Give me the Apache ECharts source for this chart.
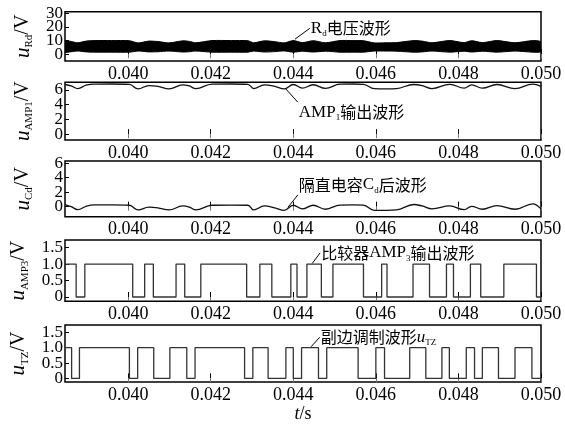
<!DOCTYPE html>
<html><head><meta charset="utf-8">
<script src="https://cdn.jsdelivr.net/npm/echarts@6/dist/echarts.min.js"></script>
<style>html,body{margin:0;padding:0;background:#fff}#c{width:565px;height:424px}</style>
</head><body><div id="c"></div>
<script>
// ---------- data ----------
const xMin = 0.03847, xMax = 0.050;
const xTicks = [0.040, 0.042, 0.044, 0.046, 0.048, 0.050];
const rdTicks = [0, 10, 20, 30];
const ampTicks = [0, 2, 4, 6];
const cdTicks = [0, 2, 4, 6];
const sqTicks = [0, 0.5, 1.0, 1.5];

// key time points of the analog waveforms (s)
const waveT = [0.03847,0.03862,0.03878,0.03898,0.03918,0.03960,0.04003,0.04024,0.04050,0.04072,
  0.04099,0.04132,0.04148,0.04164,0.04203,0.04250,0.04290,0.04304,0.04330,0.04355,
  0.04378,0.04400,0.04422,0.04448,0.04478,0.04513,0.04545,0.04570,0.04596,0.04625,
  0.04650,0.04692,0.04712,0.04736,0.04779,0.04814,0.04832,0.04858,0.04893,0.04937,
  0.04980,0.05000];
// Rd voltage band (upper / lower envelope of the dense oscillation), V
const rdHigh = [9.8,9.3,8.4,9.6,10.0,10.0,9.9,8.3,9.6,9.3,
  8.3,9.8,9.4,8.4,10.0,10.0,9.9,8.4,9.8,9.2,
  8.3,10.0,8.5,9.9,8.4,10.0,10.0,9.9,8.3,8.4,
  8.5,10.0,9.6,8.4,10.0,8.5,9.9,8.5,10.0,8.4,
  10.0,9.0];
const rdLow = [1.6,1.8,2.3,1.7,1.5,1.5,1.5,2.3,1.7,1.8,
  2.3,1.6,1.8,2.3,1.5,1.5,1.5,2.3,1.6,1.9,
  2.4,1.5,2.2,1.6,2.2,1.5,1.5,1.5,2.3,2.3,
  2.2,1.5,1.7,2.3,1.5,2.2,1.6,2.2,1.5,2.3,
  1.5,1.9];
// AMP1 output, V
const amp1V = [6.75,6.55,6.20,6.65,6.80,6.82,6.78,6.15,6.60,6.50,
  6.15,6.70,6.55,6.18,6.80,6.82,6.78,6.20,6.70,6.50,
  6.15,6.75,6.25,6.72,6.22,6.80,6.82,6.78,6.18,6.15,
  6.20,6.75,6.60,6.20,6.78,6.25,6.70,6.25,6.75,6.18,
  6.80,6.50];
// after DC-blocking capacitor Cd, V
const cdV = [0.30,0.00,-0.40,0.05,0.25,0.25,0.20,-0.45,-0.05,-0.15,
  -0.45,0.10,-0.05,-0.45,0.20,0.22,0.20,-0.45,0.10,-0.15,
  -0.50,0.20,-0.30,0.20,-0.35,0.22,0.25,0.22,-0.50,-0.50,
  -0.45,0.30,0.10,-0.30,0.10,-0.40,0.05,-0.35,0.15,-0.35,
  0.40,-0.30];

// comparator AMP3 output: start level and switching instants (s)
const amp3Start = 1;
const amp3Edges = [0.03874,0.03895,0.04011,0.04040,0.04061,0.04116,0.04137,0.04176,
  0.04287,0.04319,0.04348,0.04394,0.04409,0.04433,0.04468,0.04496,
  0.04570,0.04614,0.04627,0.04690,0.04730,0.04771,0.04788,0.04829,
  0.04854,0.04910,0.04989];
// secondary modulation waveform uTZ
const tzStart = 1;
const tzEdges = [0.03863,0.03882,0.04003,0.04023,0.04062,0.04101,0.04142,0.04162,
  0.04282,0.04302,0.04339,0.04382,0.04400,0.04420,0.04461,0.04481,
  0.04557,0.04600,0.04621,0.04682,0.04721,0.04760,0.04778,0.04819,
  0.04839,0.04858,0.04897,0.04937,0.04978];

// ---------- layout / styling ----------
const SERIF = 'Liberation Serif';
const CJK = 'Noto Sans CJK SC';
const grids = [
  {top: 11.7, height: 49.3},
  {top: 82.3, height: 57.7},
  {top: 161, height: 55.7},
  {top: 240, height: 61.3},
  {top: 325, height: 60.7}
];
const yRanges = [[-5, 31.2], [-0.8, 7.05], [-1.38, 6.3], [-0.13, 1.73], [-0.12, 1.74]];
const yTickSets = [rdTicks, ampTicks, cdTicks, sqTicks, sqTicks];
const ySubs = ['Rd', 'AMP1', 'Cd', 'AMP3', 'TZ'];

const nameRich = {
  u: {fontFamily: SERIF, fontStyle: 'italic', fontSize: 21, lineHeight: 24, color: '#000'},
  s: {fontFamily: SERIF, fontSize: 11, lineHeight: 11, verticalAlign: 'bottom', color: '#000'},
  v: {fontFamily: SERIF, fontSize: 20, lineHeight: 24, color: '#000'}
};

const chart = echarts.init(document.getElementById('c'), null, {renderer: 'canvas'});

const gridOpt = grids.map(g => ({left: 65, right: 24, top: g.top, height: g.height,
  show: true, borderColor: '#000', borderWidth: 1.5, backgroundColor: 'transparent'}));

const xAxes = [];
grids.forEach((g, i) => {
  const ax = {
    gridIndex: i, type: 'value', min: xMin, max: xMax,
    axisLine: {show: false}, splitLine: {show: false},
    axisTick: {inside: true, length: 5, customValues: xTicks, lineStyle: {color: '#000'}},
    axisLabel: {customValues: xTicks, formatter: v => v.toFixed(3),
      fontFamily: SERIF, fontSize: 18, color: '#000', margin: 4, showMinLabel: true, showMaxLabel: true}
  };
  if (i === 4) {
    ax.name = '{t|t}{n|/s}';
    ax.nameLocation = 'middle';
    ax.nameGap = 18;
    ax.nameTextStyle = {rich: {
      t: {fontFamily: SERIF, fontStyle: 'italic', fontSize: 18, color: '#000'},
      n: {fontFamily: SERIF, fontSize: 18, color: '#000'}}};
  }
  xAxes.push(ax);
  xAxes.push({
    gridIndex: i, type: 'value', position: 'top', min: xMin, max: xMax,
    axisLine: {show: false}, splitLine: {show: false},
    axisTick: {inside: true, length: 4, customValues: xTicks, lineStyle: {color: '#777'}},
    axisLabel: {show: false}
  });
});

// two left y axes per panel: one carries the even ticks (and the name), the other the odd ticks,
// so that closely spaced labels are not dropped by the library's overlap handling
const yAxes = [];
grids.forEach((g, i) => {
  const fmt = v => (i >= 3 && v !== 0) ? v.toFixed(1) : String(v);
  [0, 1].forEach(part => {
    const vals = yTickSets[i].filter((v, k) => k % 2 === part);
    const ax = {
      gridIndex: i, type: 'value', position: 'left', offset: 0,
      min: yRanges[i][0], max: yRanges[i][1],
      axisLine: {show: false}, splitLine: {show: false},
      axisTick: {inside: true, length: 4, customValues: vals, lineStyle: {color: '#000'}},
      axisLabel: {customValues: vals, fontFamily: SERIF, fontSize: 17, color: '#000', margin: 2,
        showMinLabel: true, showMaxLabel: true, formatter: fmt}
    };
    if (part === 0) {
      ax.name = '{u|u}{s|' + ySubs[i] + '}{v|/V}';
      ax.nameLocation = 'middle';
      ax.nameRotate = 90;
      ax.nameGap = 30;
      ax.nameTextStyle = {rich: nameRich};
    }
    yAxes.push(ax);
  });
});

function squareData(start, edges) {
  const d = [[xMin, start]];
  let lvl = start;
  edges.forEach(t => { lvl = 1 - lvl; d.push([t, lvl]); });
  d.push([xMax, lvl]);
  return d;
}

const series = [
  {type: 'custom', xAxisIndex: 0, yAxisIndex: 0, clip: true, data: [[xMin, 0]],
   renderItem: function (params, api) {
     const up = waveT.map((t, k) => api.coord([t, rdHigh[k]]));
     const lo = waveT.map((t, k) => api.coord([t, rdLow[k]])).reverse();
     return {type: 'polygon', shape: {points: up.concat(lo), smooth: 0.25},
       style: {fill: '#000', stroke: '#000', lineWidth: 1}};
   }},
  {type: 'line', xAxisIndex: 2, yAxisIndex: 2, symbol: 'none', smooth: 0.4,
   lineStyle: {width: 1.3, color: '#111'}, data: waveT.map((t, k) => [t, amp1V[k]])},
  {type: 'line', xAxisIndex: 4, yAxisIndex: 4, symbol: 'none', smooth: 0.4,
   lineStyle: {width: 1.3, color: '#111'}, data: waveT.map((t, k) => [t, cdV[k]])},
  {type: 'line', xAxisIndex: 6, yAxisIndex: 6, symbol: 'none', step: 'end',
   lineStyle: {width: 1.3, color: '#333'}, data: squareData(amp3Start, amp3Edges)},
  {type: 'line', xAxisIndex: 8, yAxisIndex: 8, symbol: 'none', step: 'end',
   lineStyle: {width: 1.3, color: '#333'}, data: squareData(tzStart, tzEdges)}
];

chart.setOption({
  animation: false,
  backgroundColor: '#fff',
  textStyle: {fontFamily: SERIF, color: '#000'},
  grid: gridOpt,
  xAxis: xAxes,
  yAxis: yAxes,
  series: series
});

// ---------- annotations (anchored in data coordinates) ----------
const latin = {fontFamily: SERIF, fontSize: 17, color: '#000'};
const sub = {fontFamily: SERIF, fontSize: 9, color: '#000', verticalAlign: 'bottom', lineHeight: 9};
const cjk = {fontFamily: CJK, fontSize: 16, color: '#000'};
const annRich = {
  l: Object.assign({lineHeight: 20}, latin),
  i: Object.assign({lineHeight: 20, fontStyle: 'italic'}, latin),
  s: sub,
  c: Object.assign({lineHeight: 20}, cjk)
};
const notes = [
  {g: 0, from: [0.04404, 11], to: [0.04440, 19], v: 'middle', text: '{l|R}{s|d}{c|电压波形}'},
  {g: 1, from: [0.04382, 6.14], to: [0.04411, 4.34], v: 'top', text: '{l|AMP}{s|1}{c|输出波形}'},
  {g: 2, from: [0.04387, -0.08], to: [0.04411, 1.62], v: 'bottom', text: '{c|隔直电容}{l|C}{s|d}{c|后波形}'},
  {g: 3, from: [0.04446, 1.02], to: [0.04465, 1.34], v: 'middle', text: '{c|比较器}{l|AMP}{s|3}{c|输出波形}'},
  {g: 4, from: [0.04443, 1.03], to: [0.04464, 1.34], v: 'middle', text: '{c|副边调制波形}{i|u}{s|TZ}'}
];
const graphics = [];
notes.forEach(n => {
  const f = {xAxisIndex: n.g * 2, yAxisIndex: n.g * 2};
  const p0 = chart.convertToPixel(f, n.from);
  const p1 = chart.convertToPixel(f, n.to);
  graphics.push({type: 'line', shape: {x1: p0[0], y1: p0[1], x2: p1[0], y2: p1[1]},
    style: {stroke: '#000', lineWidth: 1}, z: 10});
  graphics.push({type: 'text', x: p1[0] + 1, y: p1[1], z: 10,
    style: {text: n.text, rich: annRich, align: 'left', verticalAlign: n.v}});
});
chart.setOption({graphic: graphics});
</script>
</body></html>
